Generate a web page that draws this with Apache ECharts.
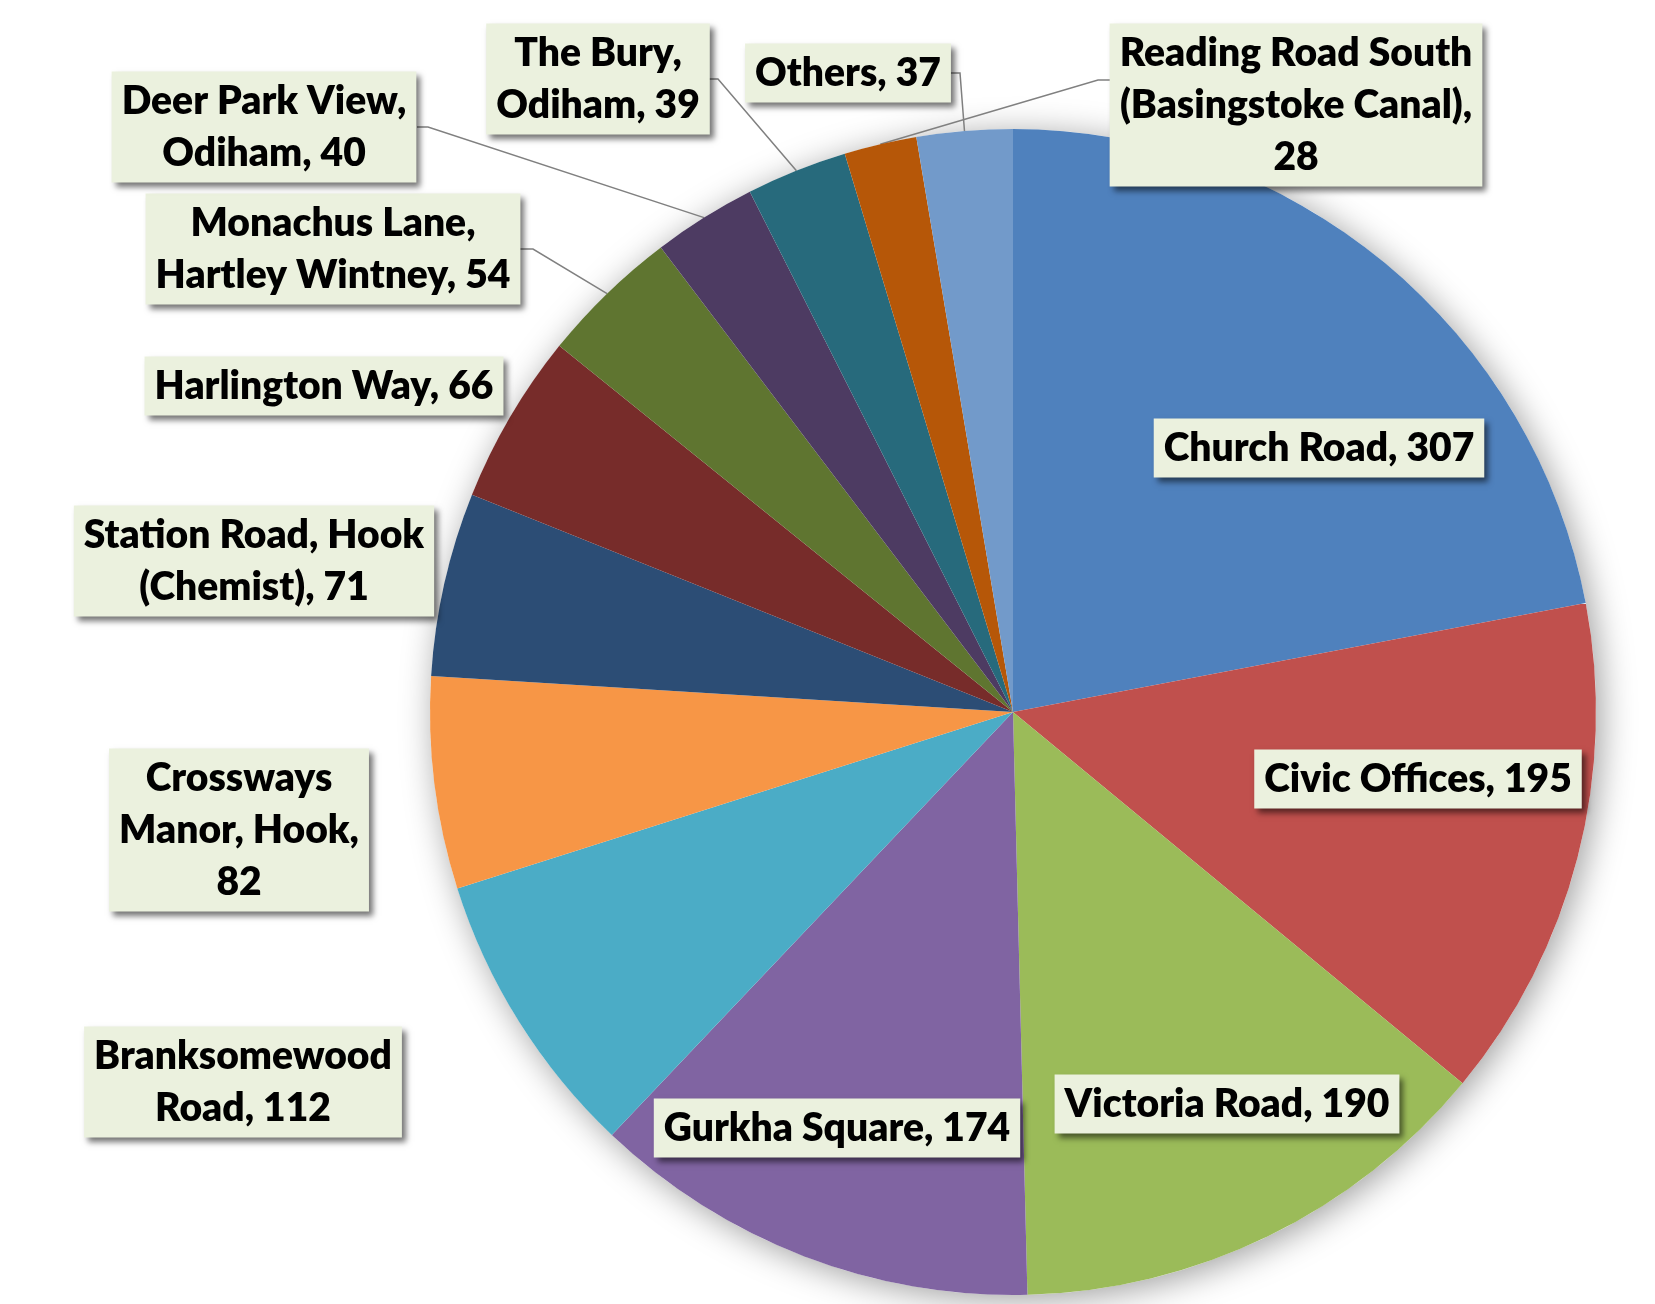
<!DOCTYPE html>
<html>
<head>
<meta charset="utf-8">
<script src="https://cdn.jsdelivr.net/npm/echarts@6/dist/echarts.min.js"></script>
<style>
html,body{margin:0;padding:0;background:#fff;}
#chart{width:1655px;height:1304px;}
</style>
</head>
<body>
<div id="chart"></div>
<script>
// ---- data ----
const categories = [
  'Church Road', 'Civic Offices', 'Victoria Road', 'Gurkha Square',
  'Branksomewood Road', 'Crossways Manor, Hook', 'Station Road, Hook (Chemist)',
  'Harlington Way', 'Monachus Lane, Hartley Wintney', 'Deer Park View, Odiham',
  'The Bury, Odiham', 'Reading Road South (Basingstoke Canal)', 'Others'
];
const values = [307, 195, 190, 174, 112, 82, 71, 66, 54, 40, 39, 28, 37];

// ---- style / layout ----
const colors = ['#4F81BD', '#C0504D', '#9BBB59', '#8064A2', '#4BACC6', '#F79646',
  '#2C4D75', '#772C2A', '#5F7530', '#4D3B62', '#276A7C', '#B65708', '#729ACA'];
// words per line when wrapping "name, value"
const wordsPerLine = [null, null, null, null, [1, 2], [1, 2, 1], [3, 2], null, [2, 3], [3, 2], [2, 2], [3, 2, 1], null];
// label box centres and leader-line attach points
const labelPos = [
  {x: 1319, y: 448},
  {x: 1418, y: 779},
  {x: 1227, y: 1104},
  {x: 837, y: 1128},
  {x: 243, y: 1082},
  {x: 239, y: 830},
  {x: 254, y: 561},
  {x: 324, y: 386},
  {x: 333, y: 249, line: [[517, 249], [533, 249]]},
  {x: 264, y: 127, line: [[417, 127], [428, 127]]},
  {x: 598, y: 79, line: [[708, 79], [718, 79]]},
  {x: 1296, y: 105, line: [[1111, 80], [1098, 80]]},
  {x: 848, y: 73, line: [[948, 73], [960, 73]]}
];
const CX = 1013, CY = 712, R = 583;

function labelText(i) {
  const words = (categories[i] + ', ' + values[i]).split(' ');
  const wpl = wordsPerLine[i];
  if (!wpl) return words.join(' ');
  const lines = [];
  let k = 0;
  wpl.forEach(n => { lines.push(words.slice(k, k + n).join(' ')); k += n; });
  if (k < words.length) lines[lines.length - 1] += ' ' + words.slice(k).join(' ');
  return lines.join('\n');
}

const total = values.reduce((a, b) => a + b, 0);
function edgePoint(i) {
  let before = 0;
  for (let j = 0; j < i; j++) before += values[j];
  const mid = (before + values[i] / 2) / total * 2 * Math.PI; // clockwise from top
  return [CX + R * Math.sin(mid), CY - R * Math.cos(mid)];
}

const pieData = categories.map((name, i) => ({
  name: name,
  value: values[i],
  itemStyle: {color: colors[i]},
  labelLine: {show: !!labelPos[i].line}
}));

const chart = echarts.init(document.getElementById('chart'), null, {renderer: 'canvas'});
chart.setOption({
  backgroundColor: '#ffffff',
  animation: false,
  series: [
    {
      type: 'pie',
      silent: true,
      center: [CX, CY],
      radius: R,
      z: 1,
      label: {show: false},
      labelLine: {show: false},
      data: [{value: 1, itemStyle: {color: '#ffffff', shadowBlur: 34, shadowColor: 'rgba(0,0,0,0.38)', shadowOffsetX: 5, shadowOffsetY: 5}}]
    },
    {
      type: 'pie',
      center: [CX, CY],
      radius: R,
      z: 2,
      startAngle: 90,
      clockwise: true,
      avoidLabelOverlap: false,
      itemStyle: {borderWidth: 0},
      label: {
        show: true,
        position: 'outside',
        overflow: 'none',
        formatter: p => labelText(p.dataIndex),
        color: '#000000',
        fontFamily: 'Lato, "Open Sans", sans-serif',
        fontWeight: 800,
        fontSize: 39,
        lineHeight: 52,
        backgroundColor: '#EBF1DE',
        padding: [4, 10, 3, 10],
        shadowColor: 'rgba(0,0,0,0.55)',
        shadowBlur: 6,
        shadowOffsetX: 4,
        shadowOffsetY: 4
      },
      labelLine: {
        show: true,
        length: 10,
        length2: 10,
        lineStyle: {color: '#808080', width: 1.5}
      },
      labelLayout: function (params) {
        const i = params.dataIndex;
        const lp = labelPos[i];
        const out = {x: lp.x, y: lp.y, align: 'center', verticalAlign: 'middle'};
        if (lp.line) {
          const start = edgePoint(i);
          out.labelLinePoints = [start, lp.line[1], lp.line[0]];
        }
        return out;
      },
      data: pieData
    }
  ]
});
</script>
</body>
</html>
